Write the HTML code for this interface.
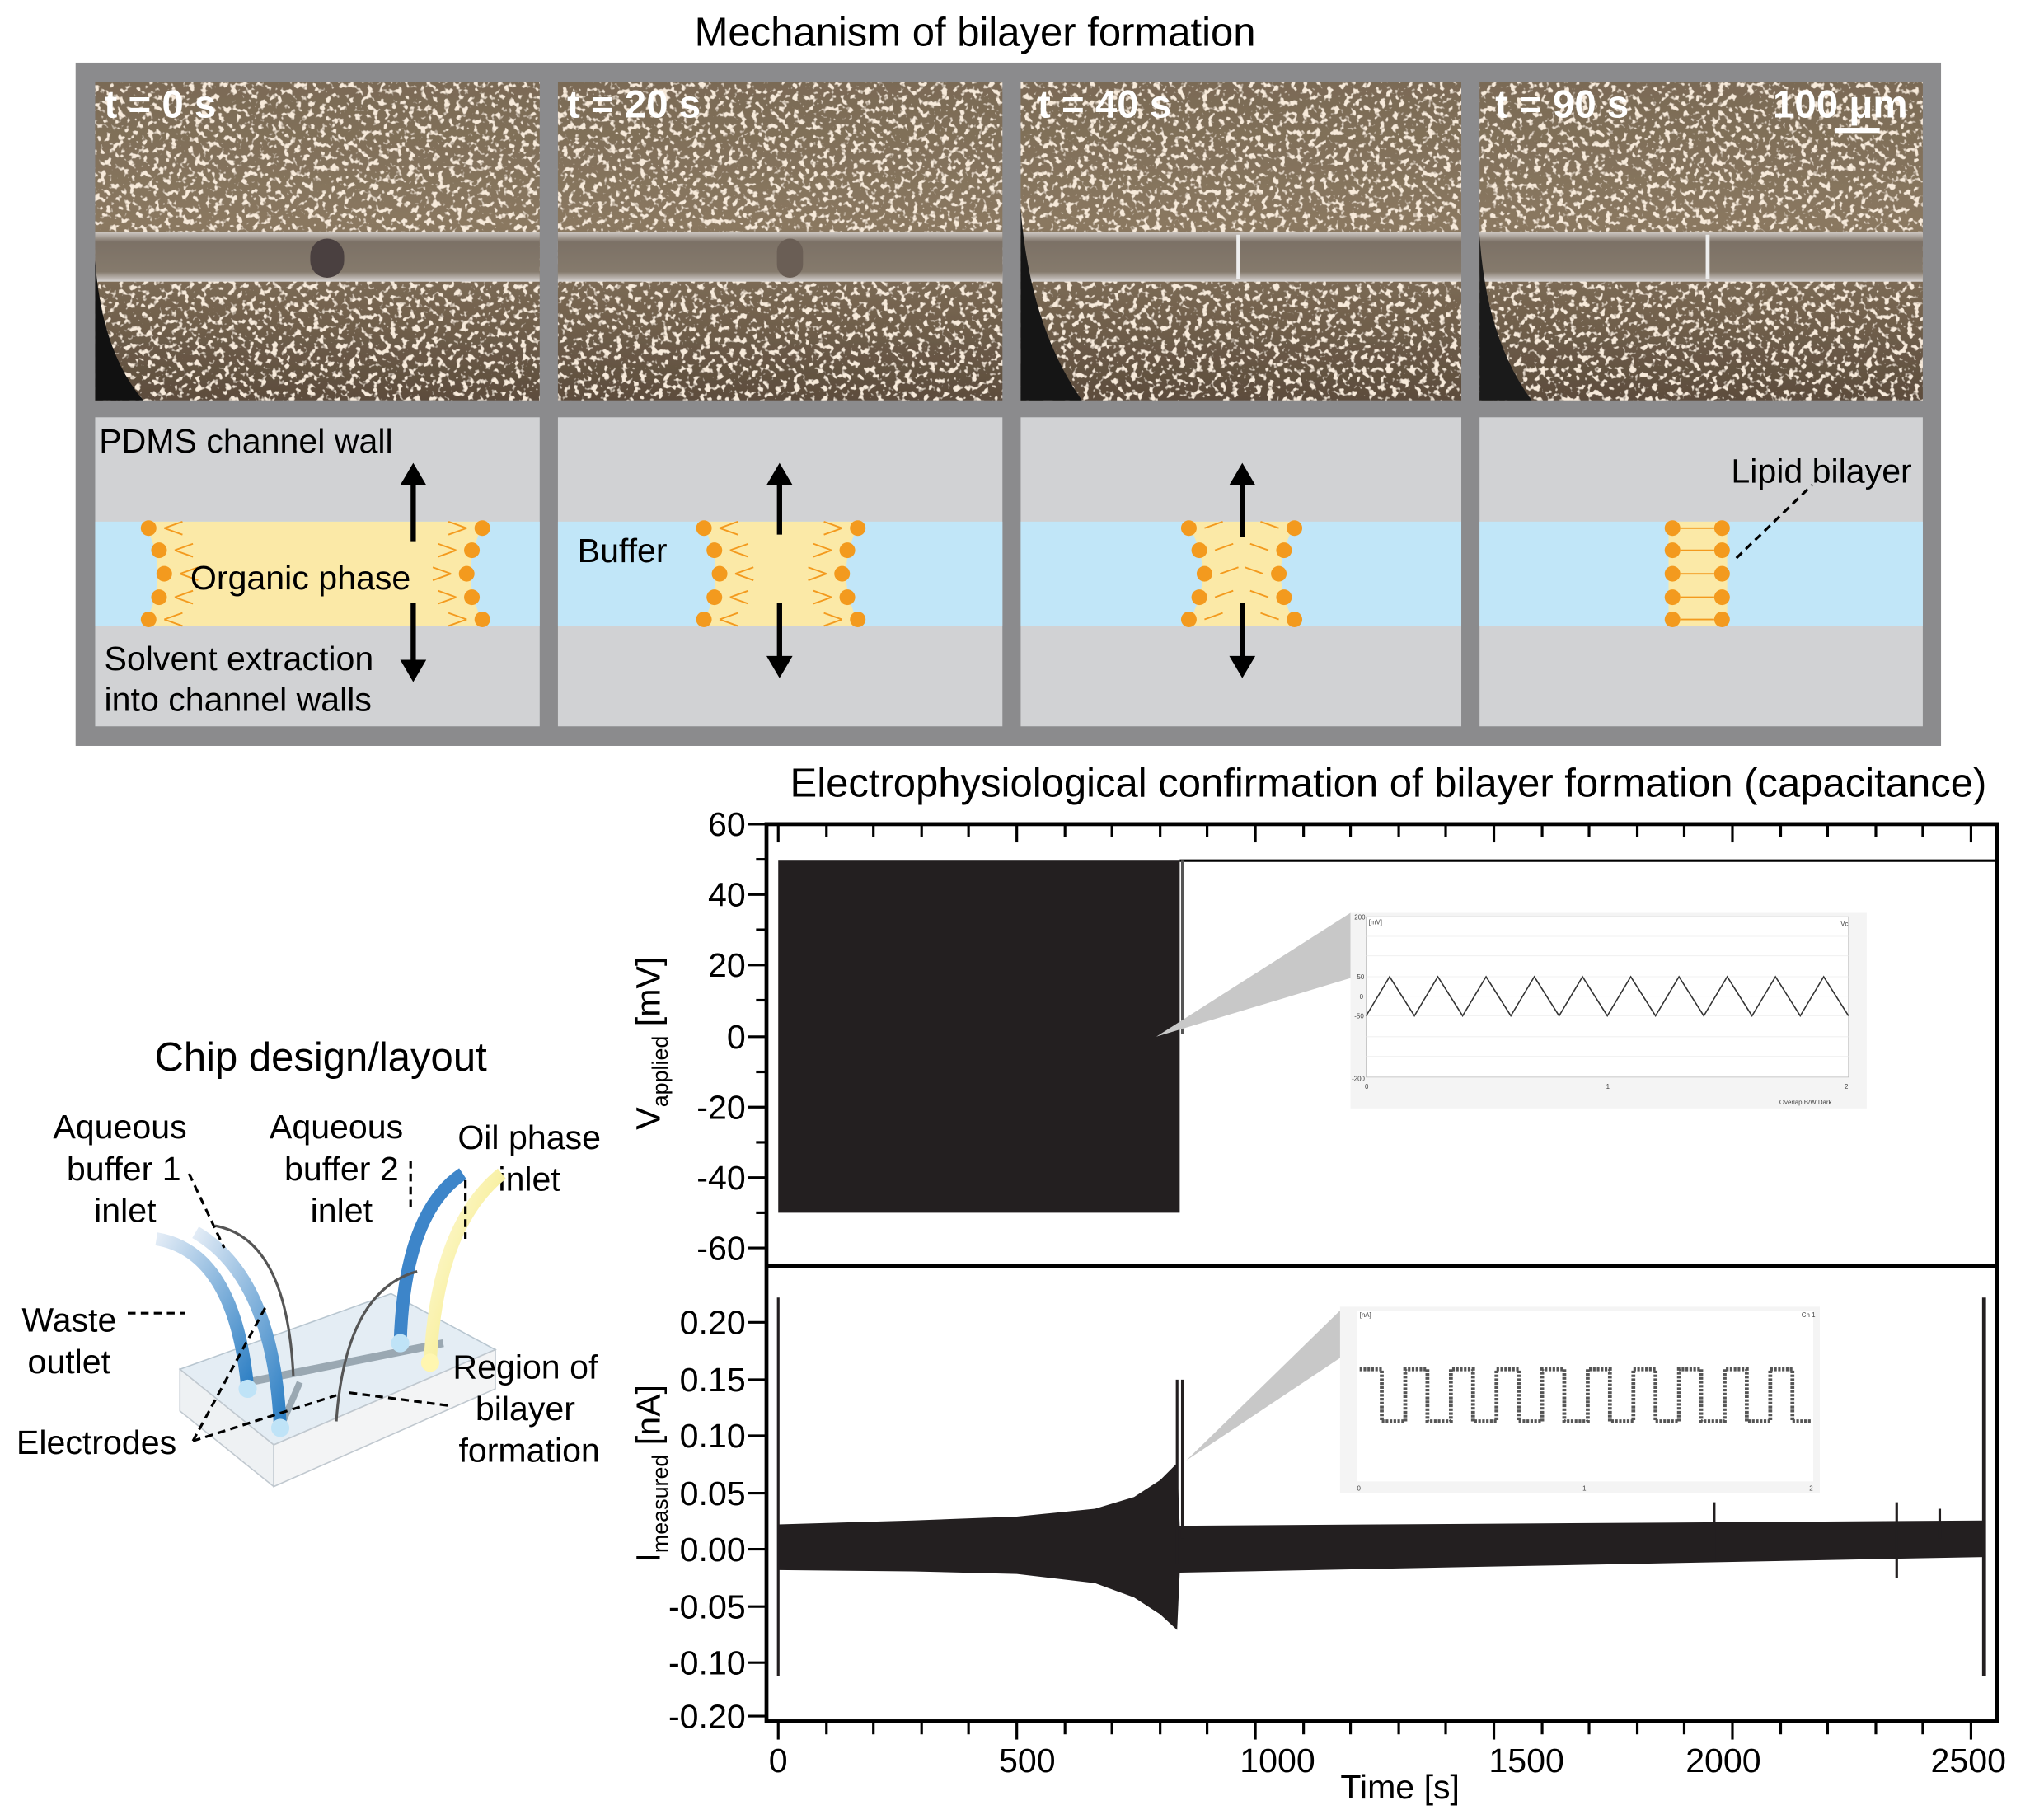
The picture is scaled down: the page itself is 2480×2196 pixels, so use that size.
<!DOCTYPE html>
<html><head><meta charset="utf-8"><style>
html,body{margin:0;padding:0;background:#fff}
svg{display:block}
text{font-family:"Liberation Sans",Arial,sans-serif}
</style></head><body>
<svg width="2480" height="2196" viewBox="0 0 1568 1388" preserveAspectRatio="none" xmlns="http://www.w3.org/2000/svg">
<defs>
<filter id="speck" x="0" y="0" width="100%" height="100%">
<feTurbulence type="fractalNoise" baseFrequency="0.22" numOctaves="2" seed="3" result="n"/>
<feColorMatrix in="n" type="matrix" values="0 0 0 0 0.93  0 0 0 0 0.82  0 0 0 0 0.7  0 0 0 8 -4.4" result="d"/>
<feComposite in="d" in2="SourceGraphic" operator="atop"/>
</filter>
<linearGradient id="ph" x1="0" y1="0" x2="0" y2="1">
<stop offset="0" stop-color="#7a6a55"/><stop offset="0.45" stop-color="#8a7860"/><stop offset="1" stop-color="#5c4c3c"/>
</linearGradient>
<linearGradient id="ch" x1="0" y1="0" x2="0" y2="1">
<stop offset="0" stop-color="#cfc9c4"/><stop offset="0.2" stop-color="#7c7166"/><stop offset="0.8" stop-color="#857a6c"/><stop offset="1" stop-color="#d8d4d2"/>
</linearGradient>
<linearGradient id="tb1" x1="0" y1="0" x2="1" y2="1"><stop offset="0" stop-color="#e3ecf6"/><stop offset="1" stop-color="#2d7fc4"/></linearGradient>
<linearGradient id="tb3" x1="0" y1="0" x2="1" y2="1"><stop offset="0" stop-color="#fffbe0"/><stop offset="1" stop-color="#f2e66a"/></linearGradient>
</defs>

<text x="748" y="35" font-size="31" text-anchor="middle">Mechanism of bilayer formation</text>
<rect x="58" y="48" width="1431" height="524" fill="#8b8b8d"/>

<g>
<rect x="73" y="63" width="341" height="244" fill="url(#ph)" filter="url(#speck)"/>
<rect x="428" y="63" width="341" height="244" fill="url(#ph)" filter="url(#speck)"/>
<rect x="783" y="63" width="338" height="244" fill="url(#ph)" filter="url(#speck)"/>
<rect x="1135" y="63" width="340" height="244" fill="url(#ph)" filter="url(#speck)"/>
<rect x="73" y="178" width="341" height="38" fill="url(#ch)"/>
<rect x="428" y="178" width="341" height="38" fill="url(#ch)"/>
<rect x="783" y="178" width="338" height="38" fill="url(#ch)"/>
<rect x="1135" y="178" width="340" height="38" fill="url(#ch)"/>
<rect x="238" y="183" width="26" height="30" rx="13" fill="#4a4040"/>
<rect x="596" y="183" width="20" height="30" rx="10" fill="#6a5e55"/>
<line x1="950" y1="180" x2="950" y2="214" stroke="#eee" stroke-width="3"/>
<line x1="1310" y1="180" x2="1310" y2="214" stroke="#eee" stroke-width="3"/>
<path d="M73 200 Q78 270 110 307 L73 307Z" fill="#111"/>
<path d="M783 160 Q790 250 830 307 L783 307Z" fill="#151515"/>
<path d="M1135 180 Q1140 260 1175 307 L1135 307Z" fill="#1a1a1a"/>
<g fill="#fff" font-weight="bold" font-size="30">
<text x="80" y="90">t = 0 s</text><text x="435" y="90">t = 20 s</text>
<text x="796" y="90">t = 40 s</text><text x="1147" y="90">t = 90 s</text>
<text x="1360" y="90">100 μm</text></g>
<rect x="1408" y="98" width="34" height="4" fill="#fff"/>
</g>

<g>
<rect x="73" y="320" width="341" height="237" fill="#d1d2d4"/>
<rect x="428" y="320" width="341" height="237" fill="#d1d2d4"/>
<rect x="783" y="320" width="338" height="237" fill="#d1d2d4"/>
<rect x="1135" y="320" width="340" height="237" fill="#d1d2d4"/>
<rect x="73" y="400" width="341" height="80" fill="#c1e6f8"/>
<rect x="428" y="400" width="341" height="80" fill="#c1e6f8"/>
<rect x="783" y="400" width="338" height="80" fill="#c1e6f8"/>
<rect x="1135" y="400" width="340" height="80" fill="#c1e6f8"/>
<path d="M110 400 L372 400 Q350 440 372 480 L110 480 Q132 440 110 400Z" fill="#fbe9a7"/>
<path d="M538 400 L660 400 Q638 440 660 480 L538 480 Q560 440 538 400Z" fill="#fbe9a7"/>
<path d="M910 400 L995 400 Q970 440 995 480 L910 480 Q935 440 910 400Z" fill="#fbe9a7"/>
<rect x="1280" y="400" width="45" height="80" fill="#fbe9a7"/>
<g fill="#f39a1e">
<circle cx="114" cy="405" r="6"/><circle cx="122" cy="422" r="6"/><circle cx="126" cy="440" r="6"/><circle cx="122" cy="458" r="6"/><circle cx="114" cy="475" r="6"/>
<circle cx="370" cy="405" r="6"/><circle cx="362" cy="422" r="6"/><circle cx="358" cy="440" r="6"/><circle cx="362" cy="458" r="6"/><circle cx="370" cy="475" r="6"/>
<circle cx="540" cy="405" r="6"/><circle cx="548" cy="422" r="6"/><circle cx="552" cy="440" r="6"/><circle cx="548" cy="458" r="6"/><circle cx="540" cy="475" r="6"/>
<circle cx="658" cy="405" r="6"/><circle cx="650" cy="422" r="6"/><circle cx="646" cy="440" r="6"/><circle cx="650" cy="458" r="6"/><circle cx="658" cy="475" r="6"/>
<circle cx="912" cy="405" r="6"/><circle cx="920" cy="422" r="6"/><circle cx="924" cy="440" r="6"/><circle cx="920" cy="458" r="6"/><circle cx="912" cy="475" r="6"/>
<circle cx="993" cy="405" r="6"/><circle cx="985" cy="422" r="6"/><circle cx="981" cy="440" r="6"/><circle cx="985" cy="458" r="6"/><circle cx="993" cy="475" r="6"/>
<circle cx="1283" cy="405" r="6"/><circle cx="1283" cy="422" r="6"/><circle cx="1283" cy="440" r="6"/><circle cx="1283" cy="458" r="6"/><circle cx="1283" cy="475" r="6"/>
<circle cx="1321" cy="405" r="6"/><circle cx="1321" cy="422" r="6"/><circle cx="1321" cy="440" r="6"/><circle cx="1321" cy="458" r="6"/><circle cx="1321" cy="475" r="6"/>
</g>
<g stroke="#f39a1e" stroke-width="1.2">
<path d="M126 405 L140 400 M126 405 L140 410 M134 422 L148 417 M134 422 L148 427 M138 440 L152 435 M138 440 L152 445 M134 458 L148 453 M134 458 L148 463 M126 475 L140 470 M126 475 L140 480"/>
<path d="M358 405 L344 400 M358 405 L344 410 M350 422 L336 417 M350 422 L336 427 M346 440 L332 435 M346 440 L332 445 M350 458 L336 453 M350 458 L336 463 M358 475 L344 470 M358 475 L344 480"/>
<path d="M552 405 L566 400 M552 405 L566 410 M560 422 L574 417 M560 422 L574 427 M564 440 L578 435 M564 440 L578 445 M560 458 L574 453 M560 458 L574 463 M552 475 L566 470 M552 475 L566 480"/>
<path d="M646 405 L632 400 M646 405 L632 410 M638 422 L624 417 M638 422 L624 427 M634 440 L620 435 M634 440 L620 445 M638 458 L624 453 M638 458 L624 463 M646 475 L632 470 M646 475 L632 480"/>
<path d="M924 405 L938 400 M932 422 L946 417 M936 440 L950 435 M932 458 L946 453 M924 475 L938 470"/>
<path d="M981 405 L967 400 M973 422 L959 417 M969 440 L955 435 M973 458 L959 453 M981 475 L967 470"/>
<path d="M1289 405 L1315 405 M1289 422 L1315 422 M1289 440 L1315 440 M1289 458 L1315 458 M1289 475 L1315 475"/>
</g>
<g stroke="#000" stroke-width="4" fill="#000">
<line x1="317" y1="415" x2="317" y2="370"/><path d="M307 372 L317 355 L327 372Z" stroke="none"/>
<line x1="317" y1="462" x2="317" y2="508"/><path d="M307 506 L317 523 L327 506Z" stroke="none"/>
<line x1="598" y1="410" x2="598" y2="370"/><path d="M588 372 L598 355 L608 372Z" stroke="none"/>
<line x1="598" y1="462" x2="598" y2="505"/><path d="M588 503 L598 520 L608 503Z" stroke="none"/>
<line x1="953" y1="412" x2="953" y2="370"/><path d="M943 372 L953 355 L963 372Z" stroke="none"/>
<line x1="953" y1="462" x2="953" y2="505"/><path d="M943 503 L953 520 L963 503Z" stroke="none"/>
</g>
<line x1="1332" y1="428" x2="1390" y2="372" stroke="#000" stroke-width="2" stroke-dasharray="6,4"/>
<g font-size="26">
<text x="76" y="347">PDMS channel wall</text>
<text x="146" y="452">Organic phase</text>
<text x="80" y="514">Solvent extraction</text>
<text x="80" y="545">into channel walls</text>
<text x="443" y="431">Buffer</text>
<text x="1328" y="370">Lipid bilayer</text>
</g>
</g>

<g font-size="26" text-anchor="middle">
<text x="246" y="821" font-size="31">Chip design/layout</text>
<text x="92" y="873">Aqueous</text><text x="95" y="905">buffer 1</text><text x="96" y="937">inlet</text>
<text x="258" y="873">Aqueous</text><text x="262" y="905">buffer 2</text><text x="262" y="937">inlet</text>
<text x="406" y="881">Oil phase</text><text x="406" y="913">inlet</text>
<text x="53" y="1021">Waste</text><text x="53" y="1053">outlet</text>
<text x="74" y="1115">Electrodes</text>
</g>
<g>
<path d="M138 1050 L300 992 L380 1035 L210 1108Z" fill="#e4edf4" stroke="#b8c6d0"/>
<path d="M138 1050 L210 1108 L210 1140 L138 1082Z" fill="#eef1f3" stroke="#c0c8cf"/>
<path d="M210 1108 L380 1035 L380 1065 L210 1140Z" fill="#f3f4f5" stroke="#c0c8cf"/>
<path d="M190 1060 L340 1030" stroke="#9aa8b2" stroke-width="6"/>
<path d="M215 1095 L230 1060" stroke="#9aa8b2" stroke-width="5"/>
<path d="M120 950 Q180 960 190 1065" stroke="url(#tb1)" stroke-width="10" fill="none"/>
<path d="M150 945 Q210 980 215 1095" stroke="url(#tb1)" stroke-width="10" fill="none"/>
<path d="M355 900 Q310 930 307 1030" stroke="#3d85c9" stroke-width="10" fill="none"/>
<path d="M385 900 Q335 940 330 1045" stroke="url(#tb3)" stroke-width="10" fill="none"/>
<circle cx="190" cy="1065" r="7" fill="#bfe3f7"/><circle cx="215" cy="1095" r="7" fill="#bfe3f7"/>
<circle cx="307" cy="1030" r="7" fill="#bfe3f7"/><circle cx="330" cy="1045" r="7" fill="#fff6b0"/>
<path d="M165 940 Q220 950 225 1055" stroke="#555" stroke-width="2" fill="none"/>
<path d="M320 975 Q265 990 258 1090" stroke="#555" stroke-width="2" fill="none"/>
<g stroke="#000" stroke-width="2" stroke-dasharray="6,4" fill="none">
<path d="M145 900 L172 957"/><path d="M315 890 L315 930"/><path d="M357 905 L357 950"/>
<path d="M98 1007 L142 1007"/><path d="M148 1105 L205 1000"/><path d="M148 1105 L258 1070"/>
<path d="M268 1068 L345 1078"/>
</g>
</g>
<g font-size="26" text-anchor="middle">
<text x="403" y="1057">Region of</text><text x="403" y="1089">bilayer</text><text x="406" y="1121">formation</text>
</g>

<text x="1065" y="611" font-size="31" text-anchor="middle">Electrophysiological confirmation of bilayer formation (capacitance)</text>
<rect x="588" y="632" width="944" height="688" fill="none" stroke="#000" stroke-width="3"/>
<line x1="588" y1="971" x2="1532" y2="971" stroke="#000" stroke-width="3"/>
<rect x="597" y="660" width="308" height="270" fill="#231f20"/>
<path d="M905 660 L1532 660" stroke="#000" stroke-width="2"/>
<line x1="907" y1="660" x2="907" y2="793" stroke="#555" stroke-width="2"/>
<path d="M887 795 L1036 700 L1036 750Z" fill="#c8c8c8"/>
<rect x="1036" y="700" width="396" height="150" fill="#f4f4f4"/>
<rect x="1048" y="703" width="370" height="123" fill="#fff" stroke="#bbb" stroke-width="0.5"/>
<g stroke="#eee" stroke-width="0.5">
<line x1="1048" y1="718" x2="1418" y2="718"/><line x1="1048" y1="733" x2="1418" y2="733"/><line x1="1048" y1="749" x2="1418" y2="749"/><line x1="1048" y1="764" x2="1418" y2="764"/><line x1="1048" y1="779" x2="1418" y2="779"/><line x1="1048" y1="795" x2="1418" y2="795"/><line x1="1048" y1="810" x2="1418" y2="810"/>
</g>
<path d="M1048 779 L1066 749 L1085 779 L1103 749 L1122 779 L1140 749 L1159 779 L1177 749 L1196 779 L1214 749 L1233 779 L1251 749 L1270 779 L1288 749 L1307 779 L1325 749 L1344 779 L1362 749 L1381 779 L1399 749 L1418 779" stroke="#333" stroke-width="1" fill="none"/>
<g font-size="5" fill="#444">
<text x="1039" y="705">200</text><text x="1041" y="751">50</text><text x="1043" y="766">0</text><text x="1039" y="781">-50</text><text x="1037" y="829">-200</text>
<text x="1050" y="709">[mV]</text><text x="1412" y="710">Vc</text>
<text x="1047" y="835">0</text><text x="1232" y="835">1</text><text x="1415" y="835">2</text>
<text x="1365" y="847">Overlap  B/W  Dark</text>
</g>
<path d="M597 1169 L700 1166 L780 1163 L840 1157 L870 1148 L890 1135 L903 1122 L905 1170 L1522 1166 L1522 1194 L905 1206 L903 1250 L890 1238 L870 1225 L840 1214 L780 1207 L700 1205 L597 1204Z" fill="#231f20"/>
<line x1="597" y1="995" x2="597" y2="1285" stroke="#231f20" stroke-width="2"/>
<line x1="1522" y1="995" x2="1522" y2="1285" stroke="#231f20" stroke-width="3"/>
<line x1="903" y1="1058" x2="903" y2="1200" stroke="#231f20" stroke-width="2"/>
<line x1="907" y1="1058" x2="907" y2="1180" stroke="#231f20" stroke-width="2"/>
<line x1="1315" y1="1152" x2="1315" y2="1197" stroke="#231f20" stroke-width="2"/>
<line x1="1455" y1="1152" x2="1455" y2="1210" stroke="#231f20" stroke-width="2"/>
<line x1="1488" y1="1157" x2="1488" y2="1180" stroke="#231f20" stroke-width="2"/>
<path d="M910 1120 L1030 1003 L1030 1040Z" fill="#c8c8c8"/>
<rect x="1028" y="1002" width="368" height="143" fill="#f4f4f4"/>
<rect x="1041" y="1005" width="350" height="131" fill="#fff"/>
<path d="M1043 1050 L1060 1050 L1060 1090 L1078 1090 L1078 1050 L1095 1050 L1095 1090 L1113 1090 L1113 1050 L1130 1050 L1130 1090 L1148 1090 L1148 1050 L1165 1050 L1165 1090 L1183 1090 L1183 1050 L1200 1050 L1200 1090 L1218 1090 L1218 1050 L1235 1050 L1235 1090 L1253 1090 L1253 1050 L1270 1050 L1270 1090 L1288 1090 L1288 1050 L1305 1050 L1305 1090 L1323 1090 L1323 1050 L1340 1050 L1340 1090 L1358 1090 L1358 1050 L1375 1050 L1375 1090 L1390 1090" stroke="#555" stroke-width="3" fill="none" stroke-dasharray="2,1"/>
<g font-size="5" fill="#444"><text x="1043" y="1010">[nA]</text><text x="1382" y="1010">Ch 1</text><text x="1041" y="1143">0</text><text x="1214" y="1143">1</text><text x="1388" y="1143">2</text></g>

<g stroke="#000" stroke-width="2">
<line x1="574" y1="632" x2="588" y2="632"/><line x1="574" y1="686" x2="588" y2="686"/><line x1="574" y1="740" x2="588" y2="740"/><line x1="574" y1="795" x2="588" y2="795"/><line x1="574" y1="849" x2="588" y2="849"/><line x1="574" y1="903" x2="588" y2="903"/><line x1="574" y1="957" x2="588" y2="957"/>
<line x1="580" y1="659" x2="588" y2="659"/><line x1="580" y1="713" x2="588" y2="713"/><line x1="580" y1="767" x2="588" y2="767"/><line x1="580" y1="822" x2="588" y2="822"/><line x1="580" y1="876" x2="588" y2="876"/><line x1="580" y1="930" x2="588" y2="930"/>
<line x1="574" y1="1014" x2="588" y2="1014"/><line x1="574" y1="1058" x2="588" y2="1058"/><line x1="574" y1="1101" x2="588" y2="1101"/><line x1="574" y1="1145" x2="588" y2="1145"/><line x1="574" y1="1188" x2="588" y2="1188"/><line x1="574" y1="1232" x2="588" y2="1232"/><line x1="574" y1="1275" x2="588" y2="1275"/><line x1="574" y1="1316" x2="588" y2="1316"/>
</g>
<g font-size="26" text-anchor="end">
<text x="572" y="641">60</text><text x="572" y="695">40</text><text x="572" y="749">20</text><text x="572" y="804">0</text><text x="572" y="858">-20</text><text x="572" y="912">-40</text><text x="572" y="966">-60</text>
<text x="572" y="1023">0.20</text><text x="572" y="1067">0.15</text><text x="572" y="1110">0.10</text><text x="572" y="1154">0.05</text><text x="572" y="1197">0.00</text><text x="572" y="1241">-0.05</text><text x="572" y="1284">-0.10</text><text x="572" y="1325">-0.20</text>
</g>
<g stroke="#000" stroke-width="2">
<line x1="597" y1="1320" x2="597" y2="1334"/><line x1="780" y1="1320" x2="780" y2="1334"/><line x1="963" y1="1320" x2="963" y2="1334"/><line x1="1146" y1="1320" x2="1146" y2="1334"/><line x1="1329" y1="1320" x2="1329" y2="1334"/><line x1="1512" y1="1320" x2="1512" y2="1334"/>
<line x1="634" y1="1320" x2="634" y2="1330"/><line x1="670" y1="1320" x2="670" y2="1330"/><line x1="707" y1="1320" x2="707" y2="1330"/><line x1="743" y1="1320" x2="743" y2="1330"/><line x1="817" y1="1320" x2="817" y2="1330"/><line x1="853" y1="1320" x2="853" y2="1330"/><line x1="890" y1="1320" x2="890" y2="1330"/><line x1="926" y1="1320" x2="926" y2="1330"/><line x1="1000" y1="1320" x2="1000" y2="1330"/><line x1="1036" y1="1320" x2="1036" y2="1330"/><line x1="1073" y1="1320" x2="1073" y2="1330"/><line x1="1109" y1="1320" x2="1109" y2="1330"/><line x1="1183" y1="1320" x2="1183" y2="1330"/><line x1="1219" y1="1320" x2="1219" y2="1330"/><line x1="1256" y1="1320" x2="1256" y2="1330"/><line x1="1292" y1="1320" x2="1292" y2="1330"/><line x1="1366" y1="1320" x2="1366" y2="1330"/><line x1="1402" y1="1320" x2="1402" y2="1330"/><line x1="1439" y1="1320" x2="1439" y2="1330"/><line x1="1475" y1="1320" x2="1475" y2="1330"/>
<line x1="597" y1="632" x2="597" y2="646"/><line x1="634" y1="632" x2="634" y2="642"/><line x1="670" y1="632" x2="670" y2="642"/><line x1="707" y1="632" x2="707" y2="642"/><line x1="743" y1="632" x2="743" y2="642"/><line x1="780" y1="632" x2="780" y2="646"/><line x1="817" y1="632" x2="817" y2="642"/><line x1="853" y1="632" x2="853" y2="642"/><line x1="890" y1="632" x2="890" y2="642"/><line x1="926" y1="632" x2="926" y2="642"/><line x1="963" y1="632" x2="963" y2="646"/><line x1="1000" y1="632" x2="1000" y2="642"/><line x1="1036" y1="632" x2="1036" y2="642"/><line x1="1073" y1="632" x2="1073" y2="642"/><line x1="1109" y1="632" x2="1109" y2="642"/><line x1="1146" y1="632" x2="1146" y2="646"/><line x1="1183" y1="632" x2="1183" y2="642"/><line x1="1219" y1="632" x2="1219" y2="642"/><line x1="1256" y1="632" x2="1256" y2="642"/><line x1="1292" y1="632" x2="1292" y2="642"/><line x1="1329" y1="632" x2="1329" y2="646"/><line x1="1366" y1="632" x2="1366" y2="642"/><line x1="1402" y1="632" x2="1402" y2="642"/><line x1="1439" y1="632" x2="1439" y2="642"/><line x1="1475" y1="632" x2="1475" y2="642"/><line x1="1512" y1="632" x2="1512" y2="646"/>
</g>
<g font-size="26" text-anchor="middle">
<text x="597" y="1359">0</text><text x="788" y="1359">500</text><text x="980" y="1359">1000</text><text x="1171" y="1359">1500</text><text x="1322" y="1359">2000</text><text x="1510" y="1359">2500</text>
<text x="1074" y="1379">Time [s]</text>
</g>
<text transform="translate(506,800) rotate(-90)" font-size="26" text-anchor="middle">V<tspan font-size="17" dy="6">applied</tspan><tspan dy="-6"> [mV]</tspan></text>
<text transform="translate(506,1130) rotate(-90)" font-size="26" text-anchor="middle">I<tspan font-size="17" dy="6">measured</tspan><tspan dy="-6"> [nA]</tspan></text>
</svg>
</body></html>
